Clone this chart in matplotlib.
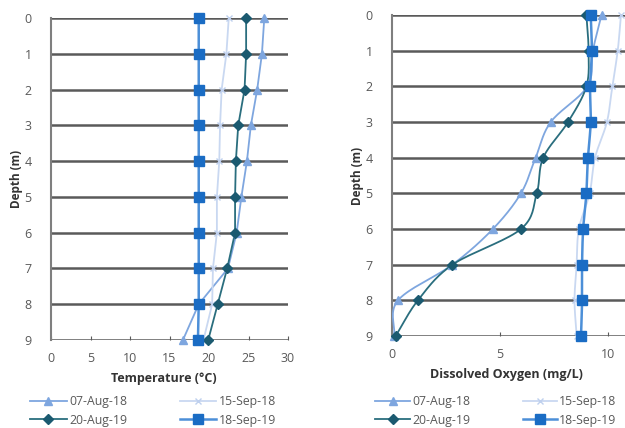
import numpy as np
import matplotlib
matplotlib.use("Agg")
import matplotlib.pyplot as plt
from matplotlib.lines import Line2D

plt.rcParams['font.family'] = ['Open Sans', 'DejaVu Sans']

depth = [0, 1, 2, 3, 4, 5, 6, 7, 8, 9]
series_names = ["07-Aug-18", "15-Sep-18", "20-Aug-19", "18-Sep-19"]

temp_07aug18 = [27.0, 26.7, 26.1, 25.3, 24.8, 24.1, 23.5, 22.4, 18.7, 16.7]
temp_15sep18 = [22.5, 22.2, 21.6, 21.4, 21.3, 21.0, 21.0, 20.5, 20.4, 19.3]
temp_20aug19 = [24.7, 24.7, 24.5, 23.7, 23.4, 23.3, 23.3, 22.3, 21.1, 19.9]
temp_18sep19 = [18.7, 18.7, 18.7, 18.7, 18.7, 18.7, 18.7, 18.7, 18.7, 18.6]

do_07aug18 = [9.7, 9.3, 9.05, 7.35, 6.65, 5.97, 4.67, 2.8, 0.28, 0.1]
do_15sep18 = [10.6, 10.45, 10.2, 9.95, 9.4, 9.15, 8.65, 8.55, 8.45, 8.55]
do_20aug19 = [9.0, 9.1, 9.0, 8.15, 7.0, 6.7, 5.97, 2.8, 1.2, 0.17]
do_18sep19 = [9.2, 9.25, 9.17, 9.2, 9.07, 9.0, 8.85, 8.8, 8.8, 8.75]

temp_xticks = [0, 5, 10, 15, 20, 25, 30]
temp_xticklabels = ["0", "5", "10", "15", "20", "25", "30"]
do_xticks = [0, 5, 10, 15]
do_xticklabels = ["0", "5", "10", ""]  # the 15 label lies beyond the cropped picture

styles = {
    "07-Aug-18": dict(color="#7EA6DF", marker="^", ms=6, lw=1.3, mec="#7EA6DF"),
    "15-Sep-18": dict(color="#C9D8F1", marker="x", ms=5, lw=1.3, mec="#BFD0EE"),
    "20-Aug-19": dict(color="#2A6E7E", marker="D", ms=5, lw=1.3, mec="#1B5A70", mfc="#1B5A70"),
    "18-Sep-19": dict(color="#4C8FD8", marker="s", ms=6.5, lw=1.8, mec="#1A6CC4", mfc="#1A6CC4"),
}

def smooth(xs, ys, n=20):
    # Catmull-Rom curve through the points (rendering only)
    P = np.column_stack([xs, ys]).astype(float)
    P = np.vstack([P[0] - (P[1] - P[0]), P, P[-1] + (P[-1] - P[-2])])
    out = []
    t = np.linspace(0, 1, n)[:, None]
    for i in range(1, len(P) - 2):
        p0, p1, p2, p3 = P[i - 1], P[i], P[i + 1], P[i + 2]
        seg = 0.5 * ((2 * p1) + (-p0 + p2) * t + (2 * p0 - 5 * p1 + 4 * p2 - p3) * t ** 2
                     + (-p0 + 3 * p1 - 3 * p2 + p3) * t ** 3)
        out.append(seg if i == 1 else seg[1:])
    out = np.vstack(out)
    return out[:, 0], out[:, 1]

fig = plt.figure(figsize=(6.25, 4.28), dpi=100)
W, H = 625, 428

def make_ax(left, right, top, bottom):
    return fig.add_axes([left / W, 1 - bottom / H, (right - left) / W, (bottom - top) / H])

ax1 = make_ax(51, 288, 18, 340)
ax2 = make_ax(392, 716, 15, 336)

tick_col = "#595959"

def style_axis(ax, xticks, xticklabels, xlabel, xlabel_pos):
    ax.set_ylim(9, 0)
    ax.set_xlim(xticks[0], xticks[-1])
    ax.set_yticks(depth)
    ax.set_xticks(xticks)
    ax.set_xticklabels(xticklabels)
    ax.grid(axis='y', color="#5a5a5a", lw=1.8)
    ax.set_axisbelow(True)
    for s in ["top", "right", "bottom"]:
        ax.spines[s].set_visible(False)
    ax.spines["left"].set_color("#7f7f7f")
    ax.spines["left"].set_linewidth(1.5)
    ax.tick_params(axis='y', length=0, pad=14, labelsize=9, labelcolor=tick_col)
    ax.tick_params(axis='x', direction='in', length=3, color="#5a5a5a", pad=9,
                   labelsize=9, labelcolor=tick_col)
    ax.set_ylabel("Depth (m)", fontsize=8.5, fontweight='bold', color="#333333", labelpad=1)
    ax.set_xlabel(xlabel, fontsize=9, fontweight='bold', color="#333333", labelpad=3)
    ax.xaxis.set_label_coords(xlabel_pos, -0.1)

temp_data = [temp_07aug18, temp_15sep18, temp_20aug19, temp_18sep19]
do_data = [do_07aug18, do_15sep18, do_20aug19, do_18sep19]

for name, vals in zip(series_names, temp_data):
    st = styles[name]
    ax1.plot(vals, depth, color=st["color"], lw=st["lw"], zorder=3)
    ax1.plot(vals, depth, ls='none', marker=st["marker"], ms=st["ms"],
             mec=st["mec"], mfc=st.get("mfc", st["color"]), zorder=4, clip_on=False)

for name, vals in zip(series_names, do_data):
    st = styles[name]
    sx, sy = smooth(vals, depth)
    ax2.plot(sx, sy, color=st["color"], lw=st["lw"], zorder=3)
    ax2.plot(vals, depth, ls='none', marker=st["marker"], ms=st["ms"],
             mec=st["mec"], mfc=st.get("mfc", st["color"]), zorder=4, clip_on=False)

style_axis(ax1, temp_xticks, temp_xticklabels, "Temperature (\u00b0C)", (164 - 51) / (288 - 51))
style_axis(ax2, do_xticks, do_xticklabels, "Dissolved Oxygen (mg/L)", (506 - 392) / (716 - 392))

def legend_handles():
    hs = []
    for name in series_names:
        st = styles[name]
        hs.append(Line2D([], [], color=st["color"], lw=st["lw"], marker=st["marker"],
                         ms=st["ms"], mec=st["mec"], mfc=st.get("mfc", st["color"])))
    # order so rows read: 07-Aug-18, 15-Sep-18 / 20-Aug-19, 18-Sep-19
    order = [0, 2, 1, 3]
    return [hs[i] for i in order], [series_names[i] for i in order]

h, l = legend_handles()
fig.legend(h, l, loc='center', bbox_to_anchor=(153 / W, 1 - 411 / H), ncol=2,
           frameon=False, fontsize=8.8, handlelength=3.0, columnspacing=4.3,
           labelspacing=0.45, handletextpad=0.2, labelcolor=tick_col)
fig.legend(h, l, loc='center', bbox_to_anchor=(496 / W, 1 - 411 / H), ncol=2,
           frameon=False, fontsize=8.8, handlelength=2.8, columnspacing=4.3,
           labelspacing=0.45, handletextpad=0.2, labelcolor=tick_col)

fig.savefig("out.png", dpi=100)
